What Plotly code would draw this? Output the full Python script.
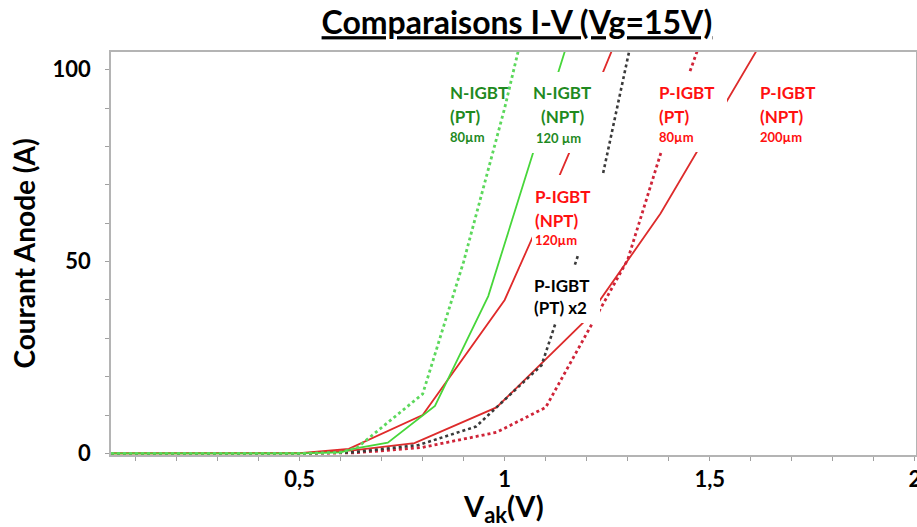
import plotly.graph_objects as go

# ---------------- data ----------------
nigbt_pt_x = [0.04, 0.3, 0.5, 0.6, 0.64, 0.80, 0.90, 1.00, 1.10]
nigbt_pt_y = [0, 0, 0, 0.3, 1.5, 15.5, 50, 90, 135]

nigbt_npt_x = [0.04, 0.3, 0.5, 0.6, 0.63, 0.715, 0.83, 0.96, 1.2]
nigbt_npt_y = [0, 0, 0, 0.3, 1.2, 2.8, 12.4, 41, 123]

pigbt_npt120_x = [0.04, 0.3, 0.5, 0.62, 0.8, 1.0, 1.1, 1.2, 1.3]
pigbt_npt120_y = [0, 0, 0.1, 1.2, 10, 40, 64, 89, 115]

pigbt_npt200_x = [0.04, 0.3, 0.5, 0.63, 0.78, 0.98, 1.2, 1.38, 1.62]
pigbt_npt200_y = [0, 0, 0, 0.8, 2.7, 12, 35, 62.5, 106]

pigbt_ptx2_x = [0.04, 0.3, 0.5, 0.63, 0.79, 0.93, 0.98, 1.09, 1.18, 1.24, 1.31]
pigbt_ptx2_y = [0, 0, 0, 0.3, 2.2, 7, 12, 23, 52, 73, 108]

pigbt_pt80_x = [0.04, 0.3, 0.5, 0.64, 0.8, 0.98, 1.1, 1.3, 1.38, 1.48]
pigbt_pt80_y = [0, 0, 0, 0.2, 1.6, 5.5, 12, 50.5, 78, 108]

x_tickvals = [0.5, 1, 1.5, 2]
x_ticktext = ["0,5", "1", "1,5", "2"]
y_tickvals = [0, 50, 100]

# ---------------- styling ----------------
FONT = "Lato"
W, H = 917, 527
L, R, T, B = 111, 916, 52, 455


def px(x):
    return (x - L) / (R - L)


def py(y):
    return (B - y) / (B - T)


GREEN_TXT = "#1f8a1f"
RED_TXT = "#ff1010"

fig = go.Figure()

series = [
    (pigbt_npt200_x, pigbt_npt200_y, "#dd2b2b", "solid", 1.8, "P-IGBT (NPT) 200µm"),
    (pigbt_pt80_x, pigbt_pt80_y, "#cf2438", "dot", 2.8, "P-IGBT (PT) 80µm"),
    (pigbt_ptx2_x, pigbt_ptx2_y, "#3a3a3a", "dot", 2.6, "P-IGBT (PT) x2"),
    (pigbt_npt120_x, pigbt_npt120_y, "#e02a2a", "solid", 1.8, "P-IGBT (NPT) 120µm"),
    (nigbt_npt_x, nigbt_npt_y, "#47d63a", "solid", 1.8, "N-IGBT (NPT) 120 µm"),
    (nigbt_pt_x, nigbt_pt_y, "#5cd85c", "dot", 2.8, "N-IGBT (PT) 80µm"),
]
for xs, ys, col, dash, w, name in series:
    fig.add_trace(go.Scatter(x=xs, y=ys, mode="lines", name=name,
                             line=dict(color=col, dash=dash, width=w),
                             showlegend=False, hoverinfo="skip"))

# white label boxes hiding curves (pixel rectangles)
boxes = [
    (532, 604, 72, 153),
    (532, 608, 175, 255),
    (520, 600, 267, 323),
    (638, 727, 73, 152),
]
for x0, x1, y0, y1 in boxes:
    fig.add_shape(type="rect", xref="paper", yref="paper",
                  x0=px(x0), x1=px(x1), y0=py(y1), y1=py(y0),
                  fillcolor="white", line=dict(width=0), layer="above")

# labels: (text, x_px, y_px, size, color, anchor)
labels = [
    ("N-IGBT", 448, 93, 17, GREEN_TXT, "left"),
    ("(PT)", 448, 117, 17, GREEN_TXT, "left"),
    ("80µm", 448, 137, 13, GREEN_TXT, "left"),
    ("N-IGBT", 562, 93, 17, GREEN_TXT, "center"),
    ("(NPT)", 562, 117, 17, GREEN_TXT, "center"),
    ("120 µm", 558, 138, 13, GREEN_TXT, "center"),
    ("P-IGBT", 533, 197, 17, RED_TXT, "left"),
    ("(NPT)", 533, 220, 17, RED_TXT, "left"),
    ("120µm", 533, 240, 13, RED_TXT, "left"),
    ("P-IGBT", 532, 285, 17, "black", "left"),
    ("(PT) x2", 532, 307, 17, "black", "left"),
    ("P-IGBT", 657, 93, 17, RED_TXT, "left"),
    ("(PT)", 657, 117, 17, RED_TXT, "left"),
    ("80µm", 657, 137, 13, RED_TXT, "left"),
    ("P-IGBT", 758, 93, 17, RED_TXT, "left"),
    ("(NPT)", 758, 117, 17, RED_TXT, "left"),
    ("200µm", 758, 137, 13, RED_TXT, "left"),
]
for txt, x, y, s, c, anc in labels:
    fig.add_annotation(text="<b>%s</b>" % txt, xref="paper", yref="paper",
                       x=px(x), y=py(y), xanchor=anc, yanchor="middle",
                       showarrow=False, font=dict(family=FONT, size=s, color=c))

# x-axis title (placed as in the reference, slightly left of centre)
fig.add_annotation(text="<b>V<sub><span style='font-size:22px'>ak</span></sub>(V)</b>",
                   xref="paper", yref="paper", x=px(503), y=py(508),
                   xanchor="center", yanchor="middle", showarrow=False,
                   font=dict(family=FONT, size=29, color="black"))

axis_common = dict(showgrid=False, zeroline=False, showline=True, mirror=True,
                   linecolor="#b4b4b4", linewidth=1.5, ticks="outside",
                   ticklen=4, tickcolor="#a0a0a0", tickwidth=1,
                   automargin=False,
                   tickfont=dict(family=FONT, size=22, color="black",
                                 weight="bold"))

fig.update_layout(
    width=W, height=H,
    margin=dict(l=L, r=W - R, t=T, b=H - B, autoexpand=False),
    paper_bgcolor="white", plot_bgcolor="white",
    separators=", ",
    font=dict(family=FONT, color="black"),
    title=dict(text="<b><u>Comparaisons I-V (Vg=15V)</u></b>",
               x=517 / W, xref="container", xanchor="center",
               y=1 - 23 / H, yref="container", yanchor="middle",
               font=dict(family=FONT, size=32, color="black")),
    xaxis=dict(range=[0.04, 2.003], tickvals=x_tickvals,
               ticktext=x_ticktext, ticklabeloverflow="allow",
               minor=dict(dtick=0.1, tick0=0, ticks="outside", ticklen=4,
                          tickcolor="#a0a0a0"),
               ticklabelstandoff=0,
               **axis_common),
    yaxis=dict(range=[-0.4, 104.6], tickvals=y_tickvals,
               minor=dict(dtick=10, tick0=0, ticks="outside", ticklen=4,
                          tickcolor="#a0a0a0"),
               ticklabelstandoff=10,
               title=dict(text="<b>Courant Anode (A)</b>", standoff=9,
                          font=dict(family=FONT, size=28, color="black")),
               **axis_common),
)

fig.write_html("out.html", config={"displayModeBar": False},
               post_script="document.body.style.margin='0px';"
                           "document.body.style.overflow='hidden';")
